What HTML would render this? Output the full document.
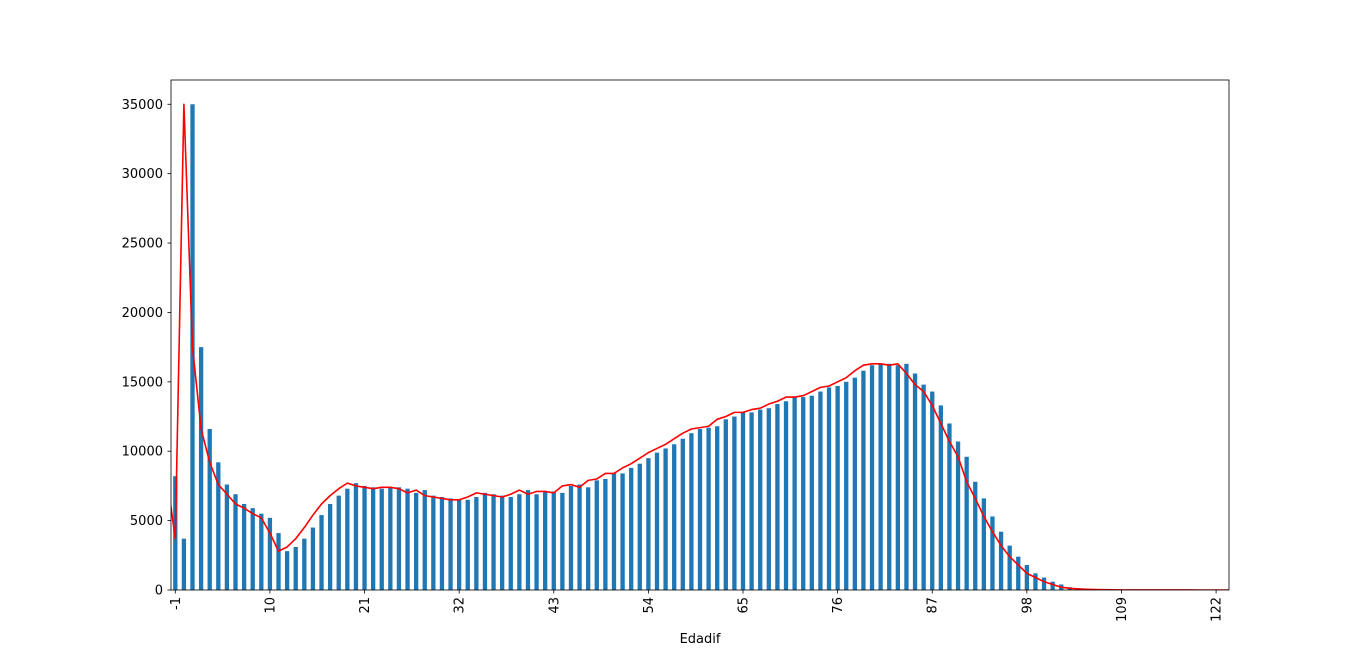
<!DOCTYPE html>
<html><head><meta charset="utf-8"><style>
body{margin:0;background:#fff;font-family:"Liberation Sans","DejaVu Sans",sans-serif;}
svg text{font-family:"DejaVu Sans","Liberation Sans",sans-serif;font-size:13px;fill:#000}
</style></head><body>
<svg id="chart" width="1366" height="663" xmlns="http://www.w3.org/2000/svg">
<g id="bars"></g>
<g id="line"></g>
<g id="axes"></g>
</svg>
<script>
const categories = [];
for (let c = -1; c <= 123; c++) { if (c !== 113 && c !== 117) categories.push(c); }
const counts = [8200,3700,35000,17500,11600,9200,7600,6900,6200,5900,5500,5200,4100,2800,3100,3700,4500,5400,6200,6800,7300,7700,7500,7400,7300,7400,7400,7300,7000,7200,6800,6700,6600,6500,6500,6700,7000,6900,6800,6700,6900,7200,6900,7100,7100,7000,7500,7600,7400,7900,8000,8400,8400,8800,9100,9500,9900,10200,10500,10900,11300,11600,11700,11800,12300,12500,12800,12800,13000,13100,13400,13600,13900,13900,14000,14300,14600,14700,15000,15300,15800,16200,16300,16300,16200,16300,15600,14800,14300,13300,12000,10700,9600,7800,6600,5300,4200,3200,2400,1800,1200,900,600,400,200,120,80,50,30,20,10,8,6,5,4,3,2,2,1,1,1,1,1];
const yTicks = [0,5000,10000,15000,20000,25000,30000,35000];
const xTickLabels = [-1,10,21,32,43,54,65,76,87,98,109,122];
const NS = "http://www.w3.org/2000/svg";
const L=171,R=1229,T=80,B=590;
const n = categories.length;
const step=(R-L)/n;
const yMax=36750;
function xPos(i){return L+(i+0.5)*step;}
function yPos(v){return B-(v/yMax)*(B-T);}
function mk(tag,attrs,parent){const e=document.createElementNS(NS,tag);for(const k in attrs)e.setAttribute(k,attrs[k]);parent.appendChild(e);return e;}
const bars=document.getElementById('bars');
counts.forEach((v,i)=>{
  const r=mk('rect',{x:xPos(i)-step/4,y:yPos(v),width:step/2,height:B-yPos(v),fill:'#1f77b4'},bars);
  
  
});
const lg=document.getElementById('line');
mk('clipPath',{id:'clip'},lg).appendChild(document.createElementNS(NS,'rect'));
const cr=lg.querySelector('clipPath rect');cr.setAttribute('x',L);cr.setAttribute('y',T);cr.setAttribute('width',R-L);cr.setAttribute('height',B-T);
let d='';
counts.forEach((v,i)=>{const c=categories[i];d+=(i?'L':'M')+xPos(c).toFixed(2)+','+yPos(v).toFixed(2);});
const p=mk('path',{d:d,fill:'none',stroke:'#ff0000','stroke-width':1.6,'clip-path':'url(#clip)','stroke-linejoin':'round'},lg);


const ax=document.getElementById('axes');
const fr=mk('rect',{x:L,y:T,width:R-L,height:B-T,fill:'none',stroke:'#000','stroke-width':0.8},ax);


yTicks.forEach(t=>{
  const y=yPos(t);
  mk('line',{x1:L-3.5,x2:L,y1:y,y2:y,stroke:'#000','stroke-width':0.8},ax);
  const tx=mk('text',{x:L-8,y:y+4.5,'text-anchor':'end'},ax);tx.textContent=t;
  
  
});
xTickLabels.forEach(c=>{
  const i=categories.indexOf(c);const x=xPos(i);
  mk('line',{x1:x,x2:x,y1:B,y2:B+3.5,stroke:'#000','stroke-width':0.8},ax);
  const tx=mk('text',{x:x+4.5,y:B+7,'text-anchor':'end',transform:`rotate(-90 ${x+4.5} ${B+7})`},ax);tx.textContent=c;
  
  
});
const xt=mk('text',{x:(L+R)/2,y:643,'text-anchor':'middle'},ax);xt.textContent='Edadif';


</script>
</body></html>
